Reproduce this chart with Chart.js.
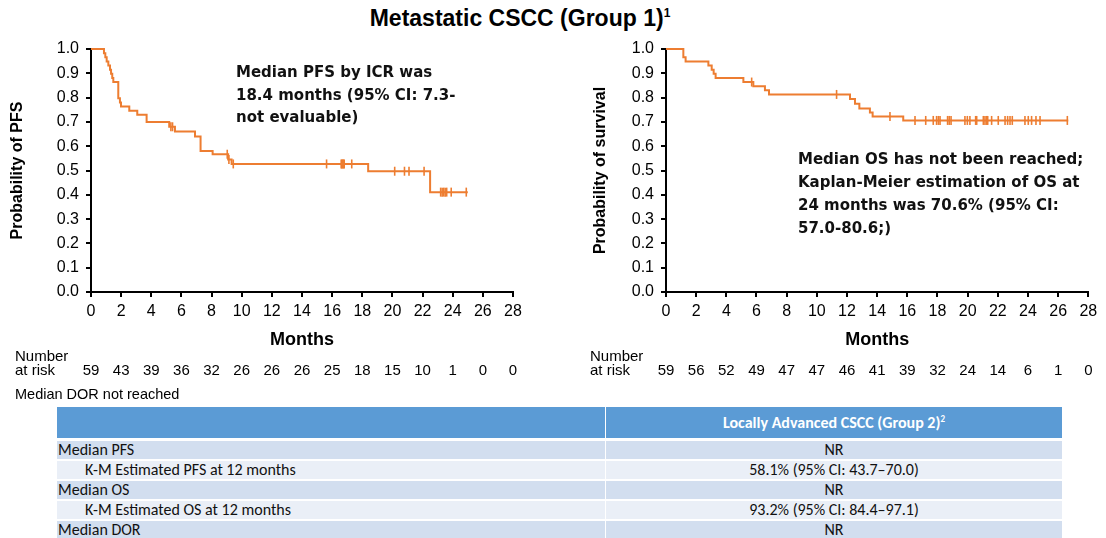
<!DOCTYPE html>
<html>
<head>
<meta charset="utf-8">
<script src="https://cdn.jsdelivr.net/npm/chart.js@4"></script>
<style>
  body { margin: 0; background: #fff; width: 1106px; height: 538px; position: relative; overflow: hidden;
         font-family: "Liberation Sans", Arial, sans-serif; color: #000; }
  canvas { position: absolute; }
  .title { position: absolute; left: 0; width: 1040px; top: 5px; text-align: center; font-weight: bold; font-size: 23px; }
  .title sup { font-size: 12px; }
  .note { position: absolute; font-family: "DejaVu Sans", sans-serif; font-weight: bold; font-size: 15px; color: #111; }
  .dor { position: absolute; left: 15px; top: 386px; font-size: 14.5px; }
  table { position: absolute; left: 57px; top: 407px; width: 1005px; border-collapse: collapse;
          font-family: Carlito, Calibri, Lato, sans-serif; font-size: 16px; color: #111; }
  td { padding: 0 1px; height: 18px; line-height: 18px; border-bottom: 2px solid #fff; white-space: nowrap; }
  td.v { text-align: center; border-left: 1px solid #fff; }
  th { background: #5b9bd5; color: #fff; font-weight: bold; height: 29px; border-bottom: 3px solid #fff; }
  th.v { border-left: 1px solid #fff; }
  tr.d td { background: #d2deef; }
  tr.l td { background: #eaeff7; }
  td.ind { padding-left: 28px; }
</style>
</head>
<body>
<div class="title">Metastatic CSCC (Group 1)<sup>1</sup></div>
<canvas id="pfsChart" width="533" height="362" style="left:0;top:30px"></canvas>
<canvas id="osChart" width="531" height="362" style="left:575px;top:30px"></canvas>
<div class="note" style="left:236px;top:61px;line-height:22.5px">Median PFS by ICR was<br>18.4 months (95% CI: 7.3-<br>not evaluable)</div>
<div class="note" style="left:798px;top:148px;line-height:23px">Median OS has not been reached;<br>Kaplan-Meier estimation of OS at<br>24 months was 70.6% (95% CI:<br>57.0-80.6;)</div>
<div class="dor">Median DOR not reached</div>
<table>
  <tr><th style="width:546px"></th><th class="v">Locally Advanced CSCC (Group 2)<sup style="font-size:9px">2</sup></th></tr>
  <tr class="d"><td>Median PFS</td><td class="v">NR</td></tr>
  <tr class="l"><td class="ind">K-M Estimated PFS at 12 months</td><td class="v">58.1% (95% CI: 43.7–70.0)</td></tr>
  <tr class="d"><td>Median OS</td><td class="v">NR</td></tr>
  <tr class="l"><td class="ind">K-M Estimated OS at 12 months</td><td class="v">93.2% (95% CI: 84.4–97.1)</td></tr>
  <tr class="d"><td style="border-bottom:0">Median DOR</td><td class="v" style="border-bottom:0">NR</td></tr>
</table>
<script>
// PFS curve (months, probability)
var pfsTimes = [0, 0.86, 0.95, 1.04, 1.15, 1.26, 1.33, 1.41, 1.48, 1.81, 1.92, 1.99, 2.54, 3.07, 3.69, 5.19, 5.57, 6.9, 7.27, 8.07, 9.1, 9.33, 18.39, 22.5, 25.0];
var pfsSurv  = [1.0, 0.983, 0.966, 0.949, 0.932, 0.915, 0.898, 0.881, 0.864, 0.797, 0.78, 0.763, 0.746, 0.729, 0.70, 0.68, 0.66, 0.64, 0.58, 0.567, 0.545, 0.527, 0.497, 0.411, 0.411];
var pfsCensored = [5.3, 5.41, 9.04, 9.15, 9.44, 15.63, 16.6, 16.65, 16.7, 16.75, 16.8, 17.3, 20.15, 20.8, 21.1, 22.1, 23.2, 23.3, 23.4, 23.5, 23.6, 23.9, 24.9];
var pfsAtRisk = [59, 43, 39, 36, 32, 26, 26, 26, 25, 18, 15, 10, 1, 0, 0];

// OS curve
var osTimes = [0, 1.15, 1.3, 2.81, 3.03, 3.16, 3.29, 5.13, 5.79, 6.56, 6.83, 12.2, 12.53, 12.82, 13.52, 13.7, 15.73, 26.67];
var osSurv  = [1.0, 0.966, 0.949, 0.932, 0.915, 0.898, 0.881, 0.864, 0.847, 0.83, 0.813, 0.794, 0.775, 0.755, 0.739, 0.722, 0.706, 0.706];
var osCensored = [5.68, 11.31, 14.85, 16.51, 17.22, 17.72, 17.94, 18.06, 18.17, 18.67, 18.78, 18.9, 19.82, 19.98, 20.15, 20.53, 20.6,
                  21.04, 21.15, 21.26, 21.33, 21.59, 22.03, 22.48, 22.65, 22.81, 22.96, 23.8, 24.02, 24.24, 24.53, 24.8, 26.61];
var osAtRisk = [59, 56, 52, 49, 47, 47, 46, 41, 39, 32, 24, 14, 6, 1, 0];

var orange = '#ED7D31';
var tickFont = { family: 'Liberation Sans', size: 16 };

function survAt(times, surv, t) {
    var s = surv[0];
    for (var i = 0; i < times.length; i++) {
        if (times[i] <= t) s = surv[i];
    }
    return s;
}

function makeChart(id, times, surv, censored, atRisk, yTitle, yTitlePad) {
    var curve = times.map(function(t, i) { return { x: t, y: surv[i] }; });
    var marks = censored.map(function(t) { return { x: t, y: survAt(times, surv, t) }; });

    var atRiskPlugin = {
        id: 'atRisk',
        afterDraw: function(chart) {
            var ctx = chart.ctx;
            var xs = chart.scales.x;
            ctx.save();
            ctx.fillStyle = '#000';
            ctx.font = '15px "Liberation Sans", Arial';
            ctx.textBaseline = 'middle';
            ctx.textAlign = 'left';
            ctx.fillText('Number', 15, 327);
            ctx.fillText('at risk', 15, 341);
            ctx.textAlign = 'center';
            atRisk.forEach(function(n, i) {
                ctx.fillText(String(n), xs.getPixelForValue(i * 2), 341);
            });
            ctx.restore();
        }
    };

    return new Chart(document.getElementById(id).getContext('2d'), {
        type: 'scatter',
        data: {
            datasets: [{
                data: curve,
                showLine: true,
                stepped: true,
                borderColor: orange,
                borderWidth: 2,
                pointRadius: 0,
                clip: false
            }, {
                data: marks,
                showLine: false,
                pointStyle: 'line',
                rotation: 90,
                radius: 4.5,
                borderColor: orange,
                borderWidth: 1.6,
                clip: false
            }]
        },
        options: {
            responsive: false,
            animation: false,
            layout: { padding: { top: 19, right: id === 'osChart' ? 17.7 : 20, bottom: 40, left: 0 } },
            plugins: { legend: { display: false }, tooltip: { enabled: false } },
            scales: {
                x: {
                    type: 'linear',
                    min: 0,
                    max: 28,
                    afterFit: function(s) { s.height = 60; },
                    ticks: { stepSize: 2, color: '#000', font: tickFont, padding: 5, maxRotation: 0 },
                    grid: { drawOnChartArea: false, drawTicks: true, tickLength: 5, color: '#000', lineWidth: 2 },
                    border: { color: '#000', width: 2 },
                    title: { display: true, text: 'Months', color: '#000',
                             font: { family: 'Liberation Sans', size: 18, weight: 'bold' }, padding: { top: 0, bottom: 1 } }
                },
                y: {
                    min: 0,
                    max: 1,
                    afterFit: function(s) { s.width = 91; },
                    ticks: { stepSize: 0.1, color: '#000', font: tickFont, padding: 7,
                             callback: function(v) { return v.toFixed(1); } },
                    grid: { drawOnChartArea: false, drawTicks: true, tickLength: 5, color: '#000', lineWidth: 2 },
                    border: { color: '#000', width: 2 },
                    title: { display: true, text: yTitle, color: '#000',
                             font: { family: 'Liberation Sans', size: 16, weight: 'bold' }, padding: { top: yTitlePad, bottom: 0 } }
                }
            }
        },
        plugins: [atRiskPlugin]
    });
}

makeChart('pfsChart', pfsTimes, pfsSurv, pfsCensored, pfsAtRisk, 'Probability of PFS', 8.4);
makeChart('osChart', osTimes, osSurv, osCensored, osAtRisk, 'Probability of survival', 16.4);
</script>
</body>
</html>
